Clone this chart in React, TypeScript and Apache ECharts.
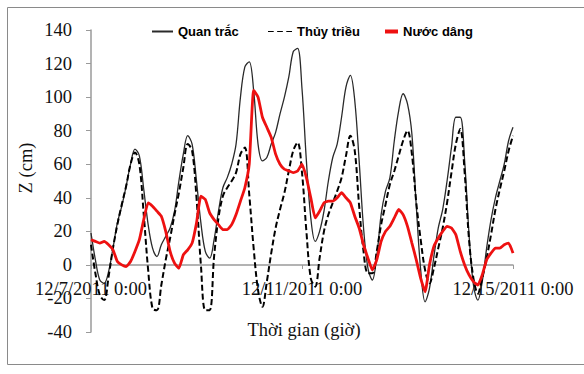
import React, { useEffect, useRef } from "react";
import * as echarts from "echarts";

// Observed water level (cm), every 2 hours from 12/7/2011 0:00 to 12/15/2011 0:00
const quanTrac = [
  19, 3, -9, -11, -4, 10, 25, 35, 47, 60, 69, 65, 45, 24, 10, 5, 12, 17, 22, 32,
  50, 66, 77, 72, 50, 25, 8, 4, 15, 32, 46, 52, 60, 72, 100, 118, 121, 104, 72, 62,
  64, 72, 79, 90, 100, 112, 127, 129, 105, 62, 28, 14, 20, 32, 50, 64, 72, 88, 106, 113,
  98, 62, 22, -2, -9, 5, 30, 44, 52, 74, 92, 102, 96, 78, 35, -3, -22, -14, 5, 22,
  33, 50, 70, 88, 88, 62, 18, -12, -21, -10, 10, 27, 40, 50, 60, 74, 82,
];

// Astronomical tide (cm)
const thuyTrieu = [
  12, -5, -18, -21, -7, 10, 24, 36, 47, 60, 67, 60, 30, -3, -26, -27, -12, 3, 16, 30,
  43, 58, 72, 68, 40, 0, -27, -27, 5, 28, 41, 46, 50, 55, 66, 70, 42, 10, -15, -25,
  -10, 7, 22, 33, 43, 56, 68, 73, 55, 20, -8, -13, 4, 20, 30, 37, 44, 52, 65, 77,
  68, 35, 8, -5, -5, 8, 24, 36, 48, 56, 65, 74, 80, 66, 37, 15, -3, -11, -2, 10,
  22, 37, 55, 72, 81, 55, 15, -8, -17, -8, 4, 18, 33, 45, 56, 68, 77,
];

// Surge (cm)
const nuocDang = [
  15, 14, 13, 14, 12, 9, 2, 0, -1, 2, 8, 15, 27, 37, 35, 32, 29, 20, 8, 1,
  -2, 6, 9, 13, 25, 41, 39, 31, 27, 24, 21, 21, 24, 30, 38, 46, 60, 104, 100, 88,
  82, 76, 66, 60, 57, 56, 55, 56, 60, 52, 40, 28, 32, 37, 38, 38, 40, 43, 40, 37,
  29, 22, 12, 4, -3, 3, 14, 20, 23, 28, 33, 30, 23, 13, 3, -8, -16, 0, 11, 16,
  20, 23, 22, 18, 8, 0, -6, -10, -12, -6, 3, 7, 10, 10, 12, 13, 7,
];

const xTickLabels = ["12/7/2011 0:00", "12/11/2011 0:00", "12/15/2011 0:00"];
const yTicks = [-40, -20, 0, 20, 40, 60, 80, 100, 120, 140];

const seriesNames = ["Quan trắc", "Thủy triều", "Nước dâng"];

// time categories (2-hour steps)
const categories: string[] = quanTrac.map((_, i) => {
  const h = i * 2;
  const day = 7 + Math.floor(h / 24);
  return `12/${day}/2011 ${h % 24}:00`;
});

const serif = "Liberation Serif";
const sans = "Liberation Sans";

export default function App() {
  const ref = useRef<HTMLDivElement>(null);
  useEffect(() => {
    if (!ref.current) return;
    const chart = echarts.init(ref.current, null, { renderer: "svg" });
    const legendBase = {
      top: 20,
      textStyle: { fontFamily: sans, fontSize: 13, fontWeight: "bold", color: "#000" },
    };
    chart.setOption({
      animation: false,
      backgroundColor: "#fff",
      grid: { left: 91, right: 71, top: 30, bottom: 42, containLabel: false },
      legend: [
        {
          ...legendBase,
          left: 147,
          itemWidth: 21,
          itemHeight: 2,
          icon: "rect",
          data: [seriesNames[0]],
        },
        {
          ...legendBase,
          left: 263,
          itemWidth: 24,
          itemHeight: 2,
          icon: "path://M0,0h5v1h-5zM8,0h5v1h-5zM16,0h5v1h-5z",
          data: [seriesNames[1]],
        },
        {
          ...legendBase,
          left: 380,
          itemWidth: 13,
          itemHeight: 4,
          icon: "rect",
          data: [seriesNames[2]],
        },
      ],
      xAxis: {
        type: "category",
        data: categories,
        boundaryGap: false,
        offset: -67,
        axisLine: { onZero: false, lineStyle: { color: "#9a9a9a", width: 1.5 } },
        axisTick: {
          show: true,
          length: 4,
          interval: (i: number) => i % 48 === 0,
          lineStyle: { color: "#9a9a9a" },
        },
        axisLabel: {
          interval: (i: number) => i % 48 === 0,
          formatter: (_v: string, i: number) => xTickLabels[i / 48] ?? "",
          fontFamily: serif,
          fontSize: 18.5,
          color: "#111",
          margin: 14,
          showMinLabel: true,
          showMaxLabel: true,
          hideOverlap: false,
        },
        splitLine: { show: false },
      },
      yAxis: {
        type: "value",
        min: yTicks[0],
        max: yTicks[yTicks.length - 1],
        interval: 20,
        axisLine: { show: true, lineStyle: { color: "#9a9a9a", width: 1.5 } },
        axisTick: { show: true, length: 5, lineStyle: { color: "#9a9a9a" } },
        axisLabel: { fontFamily: serif, fontSize: 18.5, color: "#111", margin: 19 },
        splitLine: { show: false },
      },
      series: [
        {
          name: seriesNames[0],
          type: "line",
          data: quanTrac,
          symbol: "none",
          smooth: 0.35,
          lineStyle: { color: "#2a2a2a", width: 1.3 },
          itemStyle: { color: "#2a2a2a" },
        },
        {
          name: seriesNames[1],
          type: "line",
          data: thuyTrieu,
          symbol: "none",
          smooth: 0.35,
          lineStyle: { color: "#000", width: 2, type: [6, 3] },
          itemStyle: { color: "#000" },
        },
        {
          name: seriesNames[2],
          type: "line",
          data: nuocDang,
          symbol: "none",
          smooth: 0.15,
          lineStyle: { color: "#ee1111", width: 2.8 },
          itemStyle: { color: "#ee1111" },
        },
      ],
      graphic: [
        {
          type: "rect",
          silent: true,
          z: -1,
          shape: { x: 7.5, y: 7.5, width: 600, height: 357 },
          style: { fill: "none", stroke: "#8a8a8a", lineWidth: 1 },
        },
        {
          type: "text",
          x: 26,
          y: 168,
          rotation: Math.PI / 2,
          style: {
            text: "Z (cm)",
            fontFamily: serif,
            fontSize: 18.5,
            fill: "#111",
            textAlign: "center",
            textVerticalAlign: "middle",
          },
        },
        {
          type: "text",
          x: 304,
          y: 330,
          style: {
            text: "Thời gian (giờ)",
            fontFamily: serif,
            fontSize: 18.5,
            fill: "#111",
            textAlign: "center",
            textVerticalAlign: "middle",
          },
        },
      ],
    });
    return () => chart.dispose();
  }, []);
  return (
    <div
      ref={ref}
      style={{ position: "absolute", left: 0, top: 0, width: 584, height: 374 }}
    />
  );
}
